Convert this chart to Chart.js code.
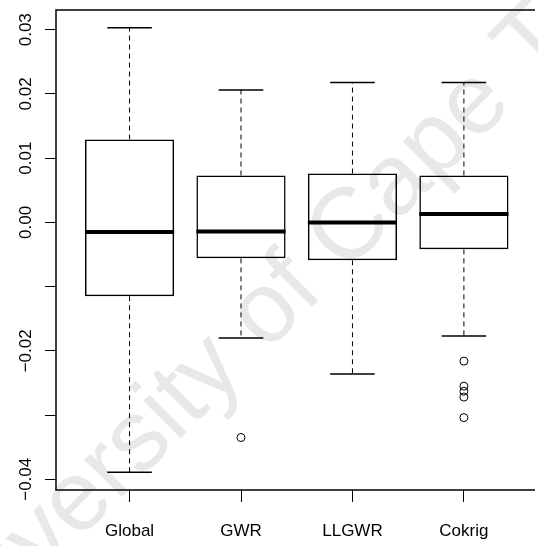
<!DOCTYPE html>
<html>
<head>
<meta charset="utf-8">
<script src="https://cdn.jsdelivr.net/npm/chart.js@4.4.0/dist/chart.umd.min.js"></script>
<style>
  body { margin: 0; background: #fff; }
</style>
</head>
<body>
<canvas id="boxChart" width="538" height="546"></canvas>
<script>
// residual spread per method
const methods = ['Global', 'GWR', 'LLGWR', 'Cokrig'];
const whiskerLow = [-0.0389, -0.0180, -0.0236, -0.0177];
const quartile1 = [-0.0115, -0.0056, -0.0059, -0.0042];
const medians = [-0.0015, -0.0014, 0.0000, 0.0013];
const quartile3 = [0.0129, 0.0073, 0.0076, 0.0073];
const whiskerHigh = [0.0303, 0.0206, 0.0218, 0.0218];
const gwrOutliers = [-0.0335];
const cokrigOutliers = [-0.0216, -0.0255, -0.0263, -0.0272, -0.0304];

const yTickValues = [-0.04, -0.03, -0.02, -0.01, 0, 0.01, 0.02, 0.03];
const yLabelValues = [0.03, 0.02, 0.01, 0, -0.02, -0.04];
const yTickLabels = ['0.03', '0.02', '0.01', '0.00', '\u22120.02', '\u22120.04'];

const FONT = '"Liberation Sans", Arial, sans-serif';

const outlierPoints = [
    ...gwrOutliers.map(v => ({ x: 2, y: v })),
    ...cokrigOutliers.map(v => ({ x: 4, y: v }))
];

// faint diagonal text behind everything
const watermark = {
    id: 'watermark',
    beforeDraw(chart) {
        const ctx = chart.ctx;
        ctx.save();
        ctx.translate(298, 282);
        ctx.rotate(-Math.PI / 4);
        ctx.font = '100px ' + FONT;
        ctx.fillStyle = '#e8e8e8';
        ctx.textAlign = 'center';
        ctx.textBaseline = 'middle';
        ctx.fillText('University of Cape Town', 0, 0);
        ctx.restore();
    }
};

// whiskers, caps and medians on top of the bars
const boxParts = {
    id: 'boxParts',
    afterDatasetsDraw(chart) {
        const { ctx, scales: { x, y } } = chart;
        const bars = chart.getDatasetMeta(0).data;
        const line = (x1, y1, x2, y2) => {
            ctx.beginPath();
            ctx.moveTo(x1, y1);
            ctx.lineTo(x2, y2);
            ctx.stroke();
        };
        ctx.save();
        ctx.strokeStyle = '#000';
        methods.forEach((m, i) => {
            const cx = x.getPixelForValue(i + 1);
            const half = bars[i].width / 2;
            const q1 = y.getPixelForValue(quartile1[i]);
            const q3 = y.getPixelForValue(quartile3[i]);
            const lo = y.getPixelForValue(whiskerLow[i]);
            const hi = y.getPixelForValue(whiskerHigh[i]);
            ctx.lineWidth = 1;
            ctx.setLineDash([5, 4]);
            line(cx, q3, cx, hi);
            line(cx, q1, cx, lo);
            ctx.setLineDash([]);
            ctx.lineWidth = 1.5;
            line(cx - half / 2, hi, cx + half / 2, hi);
            line(cx - half / 2, lo, cx + half / 2, lo);
            ctx.lineWidth = 4;
            const md = y.getPixelForValue(medians[i]);
            line(cx - half, md, cx + half, md);
        });
        ctx.restore();
    }
};

// plot frame and rotated y labels
const frame = {
    id: 'frame',
    afterDraw(chart) {
        const { ctx, chartArea: a, scales: { y } } = chart;
        ctx.save();
        ctx.strokeStyle = '#000';
        ctx.lineWidth = 1.5;
        ctx.beginPath();
        ctx.moveTo(a.right + 2, a.top);
        ctx.lineTo(a.left, a.top);
        ctx.lineTo(a.left, a.bottom);
        ctx.lineTo(a.right + 2, a.bottom);
        ctx.stroke();

        ctx.fillStyle = '#000';
        ctx.font = '17px ' + FONT;
        ctx.textAlign = 'center';
        ctx.textBaseline = 'middle';
        yLabelValues.forEach((v, i) => {
            ctx.save();
            ctx.translate(26, y.getPixelForValue(v));
            ctx.rotate(-Math.PI / 2);
            ctx.fillText(yTickLabels[i], 0, 0);
            ctx.restore();
        });
        ctx.restore();
    }
};

const ctx = document.getElementById('boxChart').getContext('2d');

new Chart(ctx, {
    type: 'bar',
    data: {
        datasets: [{
            label: 'IQR',
            data: methods.map((m, i) => ({ x: i + 1, y: [quartile1[i], quartile3[i]] })),
            backgroundColor: 'rgba(0,0,0,0)',
            borderColor: '#000',
            borderWidth: 1.5,
            borderSkipped: false,
            barPercentage: 0.8,
            categoryPercentage: 1
        }, {
            type: 'scatter',
            label: 'Outliers',
            data: outlierPoints,
            pointStyle: 'circle',
            pointRadius: 4,
            borderColor: '#000',
            backgroundColor: 'rgba(0,0,0,0)',
            borderWidth: 1
        }]
    },
    options: {
        responsive: false,
        animation: false,
        layout: { padding: { top: 10, right: 0, left: 0, bottom: 0 } },
        plugins: {
            legend: { display: false },
            tooltip: { enabled: false }
        },
        scales: {
            x: {
                type: 'linear',
                offset: false,
                min: 0.34,
                max: 4.62,
                afterBuildTicks: s => { s.ticks = methods.map((m, i) => ({ value: i + 1 })); },
                afterFit: s => { s.height = 56; },
                border: { display: false },
                grid: { offset: false, drawOnChartArea: false, drawTicks: true, tickLength: 12, color: '#000', lineWidth: 1 },
                ticks: {
                    color: '#000',
                    font: { family: FONT, size: 17 },
                    padding: 19,
                    maxRotation: 0,
                    callback: v => methods[v - 1]
                }
            },
            y: {
                type: 'linear',
                min: -0.04167,
                max: 0.03307,
                afterBuildTicks: s => { s.ticks = yTickValues.map(v => ({ value: v })); },
                afterFit: s => { s.width = 56; },
                border: { display: false },
                grid: { drawOnChartArea: false, drawTicks: true, tickLength: 11, color: '#000', lineWidth: 1 },
                ticks: { display: false }
            }
        }
    },
    plugins: [watermark, boxParts, frame]
});
</script>
</body>
</html>
